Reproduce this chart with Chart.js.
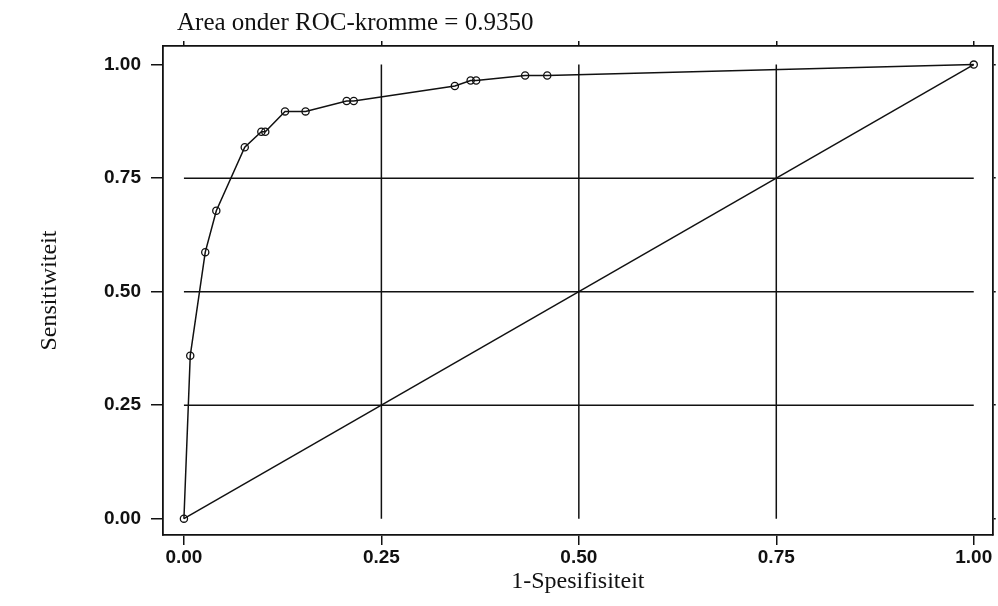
<!DOCTYPE html>
<html>
<head>
<meta charset="utf-8">
<style>
  html, body { margin: 0; padding: 0; background: #fff; }
  #wrap { width: 998px; height: 606px; position: relative; }
</style>
<script src="https://cdn.jsdelivr.net/npm/chart.js@4.4.1/dist/chart.umd.min.js"></script>
</head>
<body>
<div id="wrap"><canvas id="roc" width="998" height="606"></canvas></div>
<script>
// ROC curve
const fpr = [0, 0.008, 0.027, 0.041, 0.077, 0.098, 0.103, 0.128, 0.154, 0.206, 0.215, 0.343, 0.363, 0.370, 0.432, 0.460, 1];
const tpr = [0, 0.359, 0.587, 0.678, 0.818, 0.852, 0.852, 0.897, 0.897, 0.920, 0.920, 0.953, 0.965, 0.965, 0.976, 0.976, 1];

// reference diagonal
const diagX = [0, 1];
const diagY = [0, 1];

const tickValues = [0, 0.25, 0.5, 0.75, 1];
const gridValues = [0.25, 0.5, 0.75];

const titleText = "Area onder ROC-kromme = 0.9350";
const xTitle = "1-Spesifisiteit";
const yTitle = "Sensitiwiteit";

const ink = "#111";
const serif = "'Liberation Serif', 'Times New Roman', serif";
const sans = "'Liberation Sans', Arial, sans-serif";

function setTicks(scale) {
  scale.ticks = tickValues.map(v => ({ value: v }));
}

// grid lines only span the 0..1 data range, like the original
const innerGrid = {
  id: "innerGrid",
  beforeDatasetsDraw(chart) {
    const { ctx, scales: { x, y } } = chart;
    ctx.save();
    ctx.strokeStyle = ink;
    ctx.lineWidth = 1.5;
    ctx.beginPath();
    gridValues.forEach(v => {
      const py = y.getPixelForValue(v);
      ctx.moveTo(x.getPixelForValue(0), py);
      ctx.lineTo(x.getPixelForValue(1), py);
      const px = x.getPixelForValue(v);
      ctx.moveTo(px, y.getPixelForValue(0));
      ctx.lineTo(px, y.getPixelForValue(1));
    });
    ctx.stroke();
    ctx.restore();
  }
};

const topTitle = {
  id: "topTitle",
  afterDraw(chart) {
    const { ctx, chartArea } = chart;
    ctx.save();
    ctx.fillStyle = ink;
    ctx.font = "25px " + serif;
    ctx.textBaseline = "middle";
    ctx.fillText(titleText, chartArea.left + 14, 23);
    ctx.restore();
  }
};

const ctx = document.getElementById("roc").getContext("2d");

new Chart(ctx, {
  type: "scatter",
  data: {
    datasets: [
      {
        label: "ROC",
        data: fpr.map((v, i) => ({ x: v, y: tpr[i] })),
        showLine: true,
        borderColor: ink,
        borderWidth: 1.5,
        pointRadius: 3.6,
        pointBorderWidth: 1.3,
        pointBorderColor: ink,
        pointBackgroundColor: "rgba(0,0,0,0)",
        tension: 0
      },
      {
        label: "Diagonal",
        data: diagX.map((v, i) => ({ x: v, y: diagY[i] })),
        showLine: true,
        borderColor: ink,
        borderWidth: 1.5,
        pointRadius: 0,
        tension: 0
      }
    ]
  },
  options: {
    responsive: false,
    animation: false,
    layout: { padding: { top: 41, left: 0, right: 0, bottom: 0 } },
    plugins: {
      legend: { display: false },
      title: { display: false },
      tooltip: { enabled: false }
    },
    scales: {
      x: {
        type: "linear",
        position: "bottom",
        min: -0.0265,
        max: 1.024,
        afterBuildTicks: setTicks,
        afterFit(scale) { scale.height = 71; },
        ticks: {
          color: ink,
          padding: 1,
          font: { family: sans, size: 19, weight: "bold" },
          callback: v => Number(v).toFixed(2)
        },
        grid: { drawOnChartArea: false, drawTicks: true, tickLength: 10, color: ink, lineWidth: 1.5 },
        border: { display: true, color: ink, width: 1.8 },
        title: {
          display: true,
          text: xTitle,
          color: ink,
          font: { family: serif, size: 24 },
          padding: { top: 0, bottom: 9.6 }
        }
      },
      x2: {
        type: "linear",
        position: "top",
        min: -0.0265,
        max: 1.024,
        afterBuildTicks: setTicks,
        afterFit(scale) { scale.height = 5; },
        ticks: { display: false },
        grid: { drawOnChartArea: false, drawTicks: true, tickLength: 5, color: ink, lineWidth: 1.5 },
        border: { display: true, color: ink, width: 1.8 }
      },
      y: {
        type: "linear",
        position: "left",
        min: -0.036,
        max: 1.041,
        afterBuildTicks: setTicks,
        afterFit(scale) { scale.width = 163; },
        ticks: {
          color: ink,
          padding: 10,
          font: { family: sans, size: 19, weight: "bold" },
          callback: v => Number(v).toFixed(2)
        },
        grid: { drawOnChartArea: false, drawTicks: true, tickLength: 12, color: ink, lineWidth: 1.5 },
        border: { display: true, color: ink, width: 1.8 },
        title: {
          display: true,
          text: yTitle,
          color: ink,
          font: { family: serif, size: 24 },
          padding: { top: 35.6, bottom: 0 }
        }
      },
      y2: {
        type: "linear",
        position: "right",
        min: -0.036,
        max: 1.041,
        afterBuildTicks: setTicks,
        afterFit(scale) { scale.width = 3; },
        ticks: { display: false },
        grid: { drawOnChartArea: false, drawTicks: true, tickLength: 3, color: ink, lineWidth: 1.5 },
        border: { display: true, color: ink, width: 1.8 }
      }
    }
  },
  plugins: [innerGrid, topTitle]
});
</script>
</body>
</html>
